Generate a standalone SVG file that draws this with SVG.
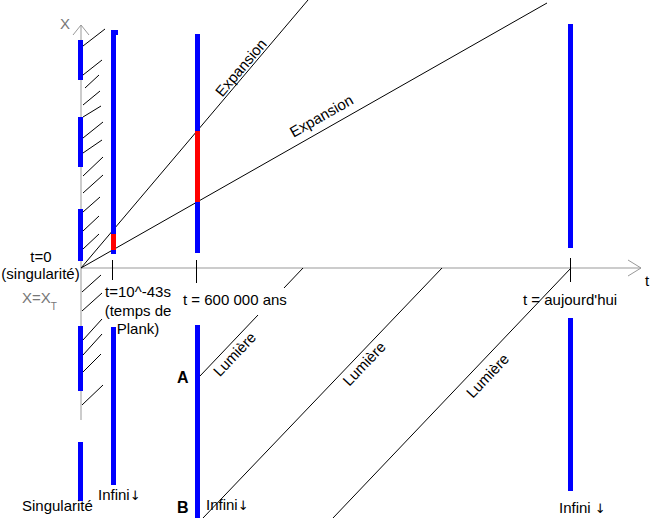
<svg xmlns="http://www.w3.org/2000/svg" width="672" height="518" viewBox="0 0 672 518">
<style>
text{font-family:"Liberation Sans",Arial,sans-serif;font-size:15px;fill:#000}
.g{fill:#777}
.b{font-weight:bold;font-size:16px}
.arr{font-family:"DejaVu Sans",sans-serif;font-size:13px}
.ax{stroke:#999;stroke-width:1;fill:none}
.ln{stroke:#000;stroke-width:1;fill:none}
.blue{fill:#0000ff}
.red{fill:#ff0000}
</style>
<rect width="672" height="518" fill="#fff"/>
<g id="axes">
<line class="ax" x1="81" y1="268" x2="641" y2="268"/>
<polyline class="ax" points="628,260 641,268 628,276"/>
<line class="ax" x1="81" y1="25" x2="81" y2="420"/>
<polyline class="ax" points="73,35 81,25 89,35"/>
<line class="ln" x1="112.5" y1="260" x2="112.5" y2="280"/>
<line class="ln" x1="196.5" y1="260" x2="196.5" y2="283"/>
<line class="ln" x1="570.5" y1="258" x2="570.5" y2="282"/>
<text class="g" x="60" y="29">X</text>
<text x="645" y="286">t</text>
</g>
<g id="connectors">
<g id="hatching">
<line class="ln" x1="83" y1="46" x2="105" y2="29"/>
<line class="ln" x1="83" y1="75" x2="102" y2="60"/>
<line class="ln" x1="85" y1="88" x2="99" y2="75"/>
<line class="ln" x1="83" y1="105" x2="100" y2="91"/>
<line class="ln" x1="83" y1="117" x2="101" y2="106"/>
<line class="ln" x1="83" y1="138" x2="103" y2="122"/>
<line class="ln" x1="83" y1="153" x2="102" y2="140"/>
<line class="ln" x1="83" y1="176" x2="103" y2="157"/>
<line class="ln" x1="83" y1="193" x2="103" y2="175"/>
<line class="ln" x1="83" y1="212" x2="100" y2="197"/>
<line class="ln" x1="83" y1="231" x2="99" y2="216"/>
<line class="ln" x1="83" y1="249" x2="99" y2="234"/>
<line class="ln" x1="82" y1="292" x2="101" y2="275"/>
<line class="ln" x1="82" y1="311" x2="102" y2="293"/>
<line class="ln" x1="83" y1="340" x2="102" y2="319"/>
<line class="ln" x1="83" y1="355" x2="102" y2="334"/>
<line class="ln" x1="83" y1="372" x2="101" y2="354"/>
<line class="ln" x1="82" y1="405" x2="103" y2="385"/>
</g>
<line id="expansion1" class="ln" x1="81" y1="268" x2="308" y2="0"/>
<line id="expansion2" class="ln" x1="81" y1="268" x2="547" y2="3"/>
<polyline id="lumiere1" class="ln" points="200,376 258,315"/>
<polyline id="lumiere1b" class="ln" points="284,288 303,268"/>
<line id="lumiere2" class="ln" x1="442" y1="268" x2="203" y2="518"/>
<line id="lumiere3" class="ln" x1="571" y1="268" x2="333" y2="518"/>
</g>
<g id="singularite">
<rect class="blue" x="78" y="40" width="5" height="40"/>
<rect class="blue" x="78" y="117" width="5" height="50"/>
<rect class="blue" x="78" y="209" width="5" height="52"/>
<rect class="blue" x="78" y="326" width="5" height="65"/>
<rect class="blue" x="78" y="442" width="5" height="59"/>
<text x="41" y="262" text-anchor="middle">t=0</text>
<text x="40.5" y="279" text-anchor="middle">(singularité)</text>
<text class="g" x="22" y="303">X=X<tspan font-size="10" y="310">T</tspan></text>
<text x="22" y="511">Singularité</text>
</g>
<g id="planck">
<rect class="blue" x="111" y="30" width="5" height="224"/>
<rect class="blue" x="116" y="30" width="2" height="5"/>
<rect class="red" x="111" y="234" width="5" height="16"/>
<rect class="blue" x="111" y="327" width="5" height="158"/>
<text x="138" y="297" text-anchor="middle">t=10^-43s</text>
<text x="138" y="316" text-anchor="middle">(temps de</text>
<text x="138" y="334" text-anchor="middle">Plank)</text>
<text x="98" y="500">Infini<tspan class="arr">↓</tspan></text>
</g>
<g id="t600000">
<rect class="blue" x="195" y="34" width="5" height="219"/>
<rect class="red" x="195" y="131" width="5" height="71"/>
<rect class="blue" x="195" y="325" width="5" height="193"/>
<text x="183" y="305">t = 600 000 ans</text>
<text class="b" x="177" y="383">A</text>
<text class="b" x="177" y="513">B</text>
<text x="206" y="510">Infini<tspan class="arr">↓</tspan></text>
</g>
<g id="aujourdhui">
<rect class="blue" x="568" y="24" width="5" height="224"/>
<rect class="blue" x="568" y="318" width="5" height="173"/>
<text x="523" y="305">t = aujourd'hui</text>
<text x="559" y="513">Infini <tspan class="arr">↓</tspan></text>
</g>
<g id="labels">
<text transform="translate(245,71) rotate(-49.7)" text-anchor="middle">Expansion</text>
<text transform="translate(324,120.5) rotate(-29.6)" text-anchor="middle">Expansion</text>
<text transform="translate(238.4,357.8) rotate(-46.4)" text-anchor="middle">Lumière</text>
<text transform="translate(368,367.3) rotate(-46.4)" text-anchor="middle">Lumière</text>
<text transform="translate(491.4,379.3) rotate(-46.4)" text-anchor="middle">Lumière</text>
</g>
</svg>
